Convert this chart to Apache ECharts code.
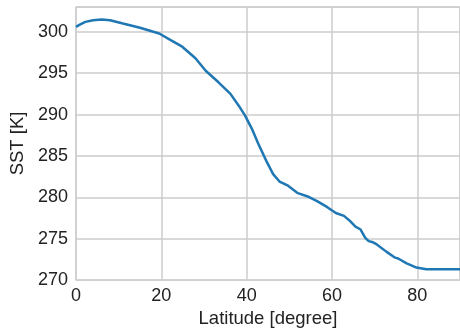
<!DOCTYPE html>
<html>
<head>
<meta charset="utf-8">
<script src="https://cdn.jsdelivr.net/npm/echarts@6/dist/echarts.min.js"></script>
<style>
  html, body { margin: 0; padding: 0; background: #fff; }
  #chart { width: 460px; height: 335px; }
</style>
</head>
<body>
<div id="chart"></div>
<script>
// zonal mean SST
const latitude = [0, 1, 2.2, 4, 6, 8, 11, 15, 19.5, 22.5, 24.9, 28, 30.4, 33.4, 36.2, 38.1, 39.6, 41.2, 42.7, 44.6, 46.2, 47.7, 49.7, 52, 54.3, 56.6, 58.9, 60.9, 62.8, 64.3, 65.5, 66.7, 67.8, 68.6, 69.4, 70.5, 72.8, 74.8, 75.5, 77.5, 79.8, 82.1, 84, 86, 88, 90];
const sst = [300.6, 300.9, 301.2, 301.4, 301.5, 301.4, 301.0, 300.5, 299.8, 298.9, 298.2, 296.8, 295.3, 293.9, 292.5, 291.1, 289.9, 288.3, 286.5, 284.4, 282.8, 281.9, 281.4, 280.5, 280.1, 279.5, 278.8, 278.1, 277.75, 277.1, 276.45, 276.1, 275.1, 274.7, 274.6, 274.3, 273.4, 272.7, 272.6, 272.0, 271.5, 271.3, 271.3, 271.3, 271.3, 271.3];

const chart = echarts.init(document.getElementById('chart'));
const textColor = '#222222';
const gridColor = '#cccccc';
const font = 'Liberation Sans';

chart.setOption({
  animation: false,
  grid: {
    left: 76, top: 7, bottom: 55, width: 388,
    show: true, borderColor: gridColor, borderWidth: 1.25
  },
  xAxis: {
    type: 'value',
    min: 0, max: 90, interval: 20,
    name: 'Latitude [degree]',
    nameLocation: 'middle',
    nameGap: 29,
    nameTextStyle: { fontFamily: font, fontSize: 18.5, color: textColor },
    axisLine: { show: false },
    axisTick: { show: false },
    axisLabel: { showMaxLabel: false, margin: 7, fontFamily: font, fontSize: 18, color: textColor },
    splitLine: { lineStyle: { color: gridColor, width: 1.5 } }
  },
  yAxis: {
    type: 'value',
    min: 270, max: 303, interval: 5,
    name: 'SST [K]',
    nameLocation: 'middle',
    nameGap: 45,
    nameTextStyle: { fontFamily: font, fontSize: 18.5, color: textColor },
    axisLine: { show: false },
    axisTick: { show: false },
    axisLabel: { showMaxLabel: false, margin: 8, fontFamily: font, fontSize: 18, color: textColor },
    splitLine: { lineStyle: { color: gridColor, width: 1.5 } }
  },
  series: [{
    type: 'line',
    data: latitude.map((lat, i) => [lat, sst[i]]),
    showSymbol: false,
    lineStyle: { color: '#1f77b4', width: 2.5 }
  }]
});
</script>
</body>
</html>
